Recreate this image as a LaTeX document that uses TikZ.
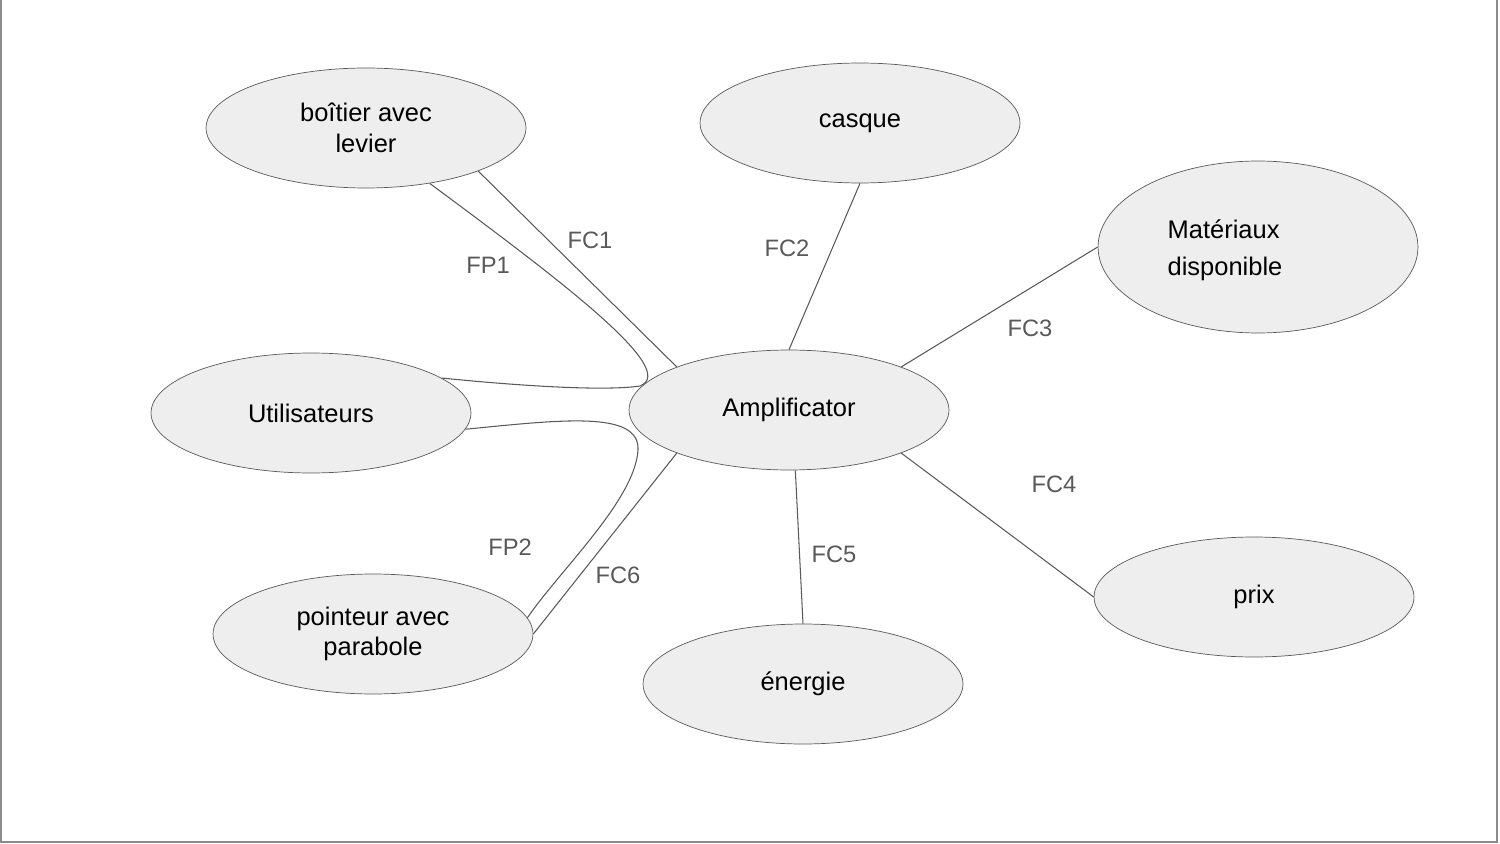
\documentclass[tikz,border=0pt]{standalone}
\usepackage{fontspec}
\setmainfont{Liberation Sans}
\usetikzlibrary{shapes.geometric}
\definecolor{bulle}{HTML}{EEEEEE}
\definecolor{trait}{HTML}{595959}
\tikzset{
	bulle/.style={ellipse, draw=trait, fill=bulle, minimum width=6.4cm, minimum height=2.4cm, align=center, font=\fontsize{14.5}{17.5}\selectfont},
	etiq/.style={text=trait, font=\fontsize{13.5}{16}\selectfont},
	lien/.style={draw=trait, line width=0.6pt}
}
\begin{document}
\begin{tikzpicture}[x=0.02cm, y=-0.02cm]
	\useasboundingbox (0,0) rectangle (1500,844);
	\draw[trait!70, line width=1pt] (1,0) -- (1,842) -- (1497,842) -- (1497,0);
	\node[bulle] (boitier) at (366,128) {boîtier avec\\levier};
	\node[bulle] (casque) at (860,123) {casque};
	\node[bulle, minimum height=3.44cm] (mat) at (1258,247) {};
	\node[align=left, font=\fontsize{14.5}{21}\selectfont] (matlabel) at (1225,250) {Matériaux\\disponible};
	\node[bulle] (util) at (311,413) {Utilisateurs};
	\node[bulle] (amp) at (789,410) {Amplificator};
	\node[bulle] (pointeur) at (373,634) {pointeur avec\\parabole};
	\node[bulle] (energie) at (803,684) {énergie};
	\node[bulle] (prix) at (1254,597) {prix};
	\coordinate (fp1) at (640,386);
	\coordinate (fp2) at (638,450);
	\draw[lien] (boitier.-41) .. controls (560,280) and (680,370) .. (fp1)
		.. controls (600,392) and (500,384) .. (util.15);
	\draw[lien] (util.-6) .. controls (560,420) and (640,410) .. (fp2)
		.. controls (635,500) and (560,570) .. (pointeur.6);
	\draw[lien] (boitier.-21) -- (amp.159);
	\draw[lien] (casque.south) -- (amp.north);
	\draw[lien] (mat.west) -- (amp.21);
	\draw[lien] (amp.-21) -- (prix.west);
	\draw[lien] (amp.-84) -- (energie.north);
	\draw[lien] (amp.-159) -- (pointeur.east);
	\node[etiq] (lfp1) at (488,265) {FP1};
	\node[etiq] (lfc1) at (590,240) {FC1};
	\node[etiq] (lfc2) at (787,248) {FC2};
	\node[etiq] (lfc3) at (1030,328) {FC3};
	\node[etiq] (lfc4) at (1054,484) {FC4};
	\node[etiq] (lfc5) at (834,554) {FC5};
	\node[etiq] (lfp2) at (510,547) {FP2};
	\node[etiq] (lfc6) at (618,575) {FC6};
\end{tikzpicture}
\end{document}
